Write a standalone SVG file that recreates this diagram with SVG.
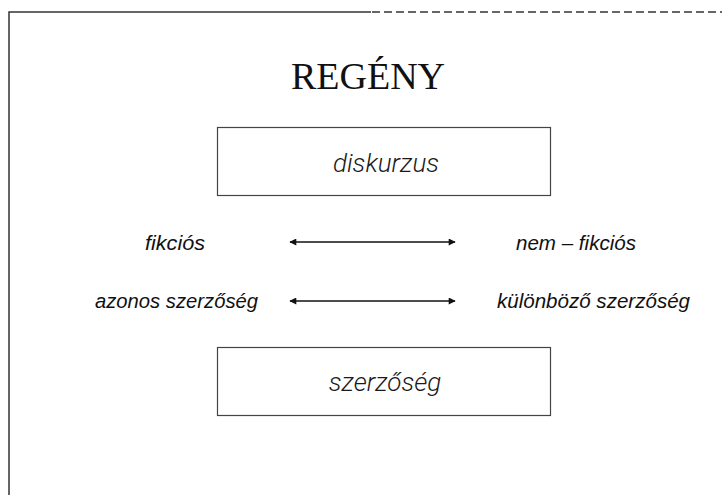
<svg xmlns="http://www.w3.org/2000/svg" width="722" height="495" viewBox="0 0 722 495">
<style>
.frame{stroke:#333;stroke-width:1.5;fill:none}
.box{fill:#fff;stroke:#444;stroke-width:1.2}
.lbl{font-family:"Liberation Sans",Arial,sans-serif;font-style:italic;font-size:20px;fill:#111}
.boxt{font-family:Roboto,"Liberation Sans",sans-serif;font-weight:300;font-style:italic;font-size:26px;fill:#1a1a1a;text-anchor:middle}
.title{font-family:"Liberation Serif","Times New Roman",serif;font-size:38px;fill:#111;text-anchor:middle}
.arr{stroke:#111;stroke-width:1.5;fill:none;marker-start:url(#ah);marker-end:url(#ah)}
</style>
<defs>
<marker id="ah" viewBox="0 0 10 10" refX="9" refY="5" markerWidth="10" markerHeight="7" orient="auto-start-reverse" markerUnits="userSpaceOnUse">
<path d="M0,0 L10,5 L0,10 z" fill="#111"/>
</marker>
</defs>
<g id="frame">
<path class="frame" d="M9,495 V12 H371"/>
<path class="frame" d="M372,12 H722" stroke-dasharray="8,4"/>
</g>
<g id="title"><text class="title" x="368" y="89">REGÉNY</text></g>
<g id="diskurzus">
<rect class="box" x="217.5" y="127.5" width="333" height="68"/>
<text class="boxt" x="386" y="172">diskurzus</text>
</g>
<g id="szerzoseg">
<rect class="box" x="217.5" y="347.5" width="333" height="68"/>
<text class="boxt" x="385" y="391">szerzőség</text>
</g>
<g id="fikcios"><text class="lbl" x="145" y="250" textLength="60" lengthAdjust="spacingAndGlyphs">fikciós</text></g>
<g id="nemfikcios"><text class="lbl" x="516" y="250" textLength="120" lengthAdjust="spacingAndGlyphs">nem – fikciós</text></g>
<g id="azonos"><text class="lbl" x="95" y="308" textLength="163" lengthAdjust="spacingAndGlyphs">azonos szerzőség</text></g>
<g id="kulonbozo"><text class="lbl" x="497" y="308" textLength="193" lengthAdjust="spacingAndGlyphs">különböző szerzőség</text></g>
<g id="connectors">
<line class="arr" x1="290" y1="242" x2="455" y2="242"/>
<line class="arr" x1="290" y1="301" x2="455" y2="301"/>
</g>
</svg>
